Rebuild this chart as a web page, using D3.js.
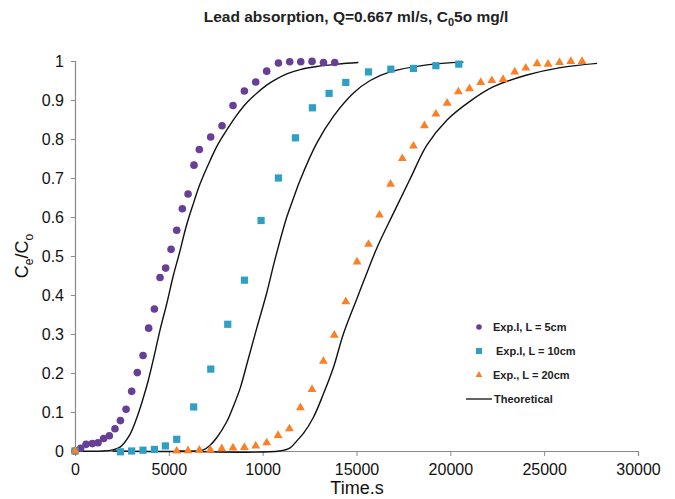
<!DOCTYPE html>
<html>
<head>
<meta charset="utf-8">
<script src="https://cdn.jsdelivr.net/npm/d3@7"></script>
<style>
  body { margin: 0; background: #fff; }
  svg { font-family: "Liberation Sans", Arial, sans-serif; }
</style>
</head>
<body>
<svg id="chart" width="675" height="499"></svg>
<script>
// data
const exp5 = [
  [0, 0], [300, 0.007], [590, 0.017], [925, 0.019], [1225, 0.021], [1525, 0.032],
  [1830, 0.039], [2130, 0.057], [2420, 0.078], [2720, 0.107], [3020, 0.153],
  [3320, 0.201], [3625, 0.245], [3925, 0.315], [4230, 0.364], [4530, 0.445],
  [4830, 0.469], [5120, 0.517], [5420, 0.566], [5720, 0.621], [6025, 0.659],
  [6340, 0.733], [6625, 0.773], [7230, 0.805], [7835, 0.834], [8420, 0.886],
  [9025, 0.923], [9630, 0.946], [10215, 0.974], [10840, 0.995], [11440, 0.998],
  [12030, 0.998], [12630, 0.999], [13240, 0.996], [13840, 0.996]
];
const exp10 = [
  [0, 0], [2420, -0.002], [3020, 0], [3625, 0.002], [4230, 0.004], [4815, 0.013],
  [5420, 0.03], [6325, 0.113], [7235, 0.21], [8140, 0.325], [9030, 0.438],
  [9915, 0.591], [10840, 0.7], [11745, 0.803], [12650, 0.88], [13540, 0.917],
  [14430, 0.945], [15640, 0.972], [16830, 0.979], [18035, 0.981], [19230, 0.988],
  [20450, 0.992]
];
const exp20 = [
  [0, 0], [5420, 0], [6025, 0.001], [6625, 0.002], [7210, 0.003], [7820, 0.006],
  [8420, 0.008], [9025, 0.009], [9630, 0.013], [10215, 0.021], [10820, 0.04],
  [11425, 0.057], [12010, 0.111], [12630, 0.158], [13235, 0.23], [13820, 0.297],
  [14430, 0.383], [15030, 0.485], [15640, 0.53], [16225, 0.605], [16815, 0.684],
  [17440, 0.75], [18035, 0.782], [18620, 0.834], [19230, 0.864], [19830, 0.892],
  [20430, 0.921], [21020, 0.929], [21620, 0.945], [22210, 0.95], [22810, 0.953],
  [23430, 0.972], [24020, 0.982], [24625, 0.993], [25210, 0.992], [25815, 0.996],
  [26420, 0.999], [27020, 0.999]
];
const theory5 = [
  [0, 0], [1500, 0], [2000, 0.003], [2400, 0.01], [2900, 0.04], [3300, 0.086],
  [3600, 0.13], [3900, 0.18], [4200, 0.24], [4530, 0.31], [4900, 0.38],
  [5240, 0.45], [5550, 0.505], [5950, 0.58], [6310, 0.635], [6665, 0.685],
  [7200, 0.745], [7600, 0.785], [8085, 0.823], [8600, 0.86], [9150, 0.893],
  [9700, 0.918], [10215, 0.938], [10750, 0.954], [11285, 0.967], [12000, 0.978],
  [12890, 0.986], [14000, 0.992], [15100, 0.996]
];
const theory10 = [
  [2000, 0], [6500, 0], [6840, 0.003], [7200, 0.015], [7550, 0.034], [8085, 0.075],
  [8440, 0.115], [8795, 0.16], [9200, 0.23], [9685, 0.315], [10215, 0.405],
  [10650, 0.49], [11285, 0.6], [11640, 0.648], [12000, 0.695], [12890, 0.79],
  [13770, 0.858], [14840, 0.918], [15730, 0.95], [16790, 0.972], [18750, 0.99],
  [20700, 0.997]
];
const theory20 = [
  [5500, 0], [10900, 0], [11460, 0.008], [11820, 0.026], [12170, 0.045],
  [12700, 0.086], [13235, 0.146], [13770, 0.214], [14300, 0.3], [15015, 0.39],
  [15500, 0.45], [16080, 0.52], [16970, 0.61], [17860, 0.698], [18750, 0.784],
  [19810, 0.848], [21060, 0.897], [22300, 0.934], [24080, 0.964], [25860, 0.983],
  [27820, 0.994]
];
const xTicks = [0, 5000, 10000, 15000, 20000, 25000, 30000];
const xTickLabels = ["0", "5000", "1000", "15000", "20000", "25000", "30000"];
const yTicks = [0, 0.1, 0.2, 0.3, 0.4, 0.5, 0.6, 0.7, 0.8, 0.9, 1];
const legendNames = ["Exp.I, L = 5cm", "Exp.I, L = 10cm", "Exp., L = 20cm", "Theoretical"];

const purple = "#673f96", blue = "#2f9fc5", orange = "#fd7f25";

const svg = d3.select("#chart");

const x = d3.scaleLinear().domain([0, 30000]).range([75, 638]);
const y = d3.scaleLinear().domain([0, 1]).range([451, 61]);

// axes
const xAxis = svg.append("g")
  .attr("transform", `translate(0,${y(0)})`)
  .call(d3.axisBottom(x).tickValues(xTicks).tickSize(5).tickPadding(8)
    .tickFormat((d, i) => xTickLabels[i]));
const yAxis = svg.append("g")
  .attr("transform", `translate(${x(0)},0)`)
  .call(d3.axisLeft(y).tickValues(yTicks).tickSize(4).tickPadding(7)
    .tickFormat(d3.format("")));

[xAxis, yAxis].forEach((g) => {
  g.select(".domain").attr("stroke", "#8a8a8a").attr("stroke-width", 1.2);
  g.selectAll(".tick line").attr("stroke", "#8a8a8a");
  g.selectAll(".tick text")
    .attr("fill", "#111")
    .attr("font-size", "16px")
    .attr("font-family", "Liberation Sans, Arial, sans-serif");
});

// theoretical lines
const line = d3.line().x((d) => x(d[0])).y((d) => y(d[1])).curve(d3.curveCatmullRom.alpha(0.5));
[theory5, theory10, theory20].forEach((data) => {
  svg.append("path")
    .datum(data)
    .attr("fill", "none")
    .attr("stroke", "#111")
    .attr("stroke-width", 1.4)
    .attr("d", line);
});

// experimental points
svg.append("g").selectAll("circle")
  .data(exp5)
  .join("circle")
  .attr("cx", (d) => x(d[0]))
  .attr("cy", (d) => y(d[1]))
  .attr("r", 3.8)
  .attr("fill", purple);

svg.append("g").selectAll("rect")
  .data(exp10)
  .join("rect")
  .attr("x", (d) => x(d[0]) - 3.6)
  .attr("y", (d) => y(d[1]) - 3.6)
  .attr("width", 7.2)
  .attr("height", 7.2)
  .attr("fill", blue);

const tri = d3.symbol().type(d3.symbolTriangle).size(34);
svg.append("g").selectAll("path")
  .data(exp20)
  .join("path")
  .attr("transform", (d) => `translate(${x(d[0])},${y(d[1])})`)
  .attr("d", tri)
  .attr("fill", orange);

// title
const title = svg.append("text")
  .attr("x", 356)
  .attr("y", 22)
  .attr("text-anchor", "middle")
  .attr("font-size", "15.5px")
  .attr("font-weight", "bold")
  .attr("fill", "#222");
title.append("tspan").text("Lead absorption, Q=0.667 ml/s, C");
title.append("tspan").attr("font-size", "11px").attr("dy", 4).text("0");
title.append("tspan").attr("dy", -4).text("5o mg/l");

// axis labels
svg.append("text")
  .attr("x", 357)
  .attr("y", 494)
  .attr("text-anchor", "middle")
  .attr("font-size", "18px")
  .attr("fill", "#111")
  .text("Time.s");

const yl = svg.append("text")
  .attr("transform", "translate(28,256) rotate(-90)")
  .attr("text-anchor", "middle")
  .attr("font-size", "18px")
  .attr("fill", "#111");
yl.append("tspan").text("C");
yl.append("tspan").attr("font-size", "12px").attr("dy", 5).text("e");
yl.append("tspan").attr("dy", -5).text("/C");
yl.append("tspan").attr("font-size", "12px").attr("dy", 5).text("o");

// legend
const legend = svg.append("g").attr("font-size", "11px").attr("font-weight", "bold").attr("fill", "#222");
const legendY = [327, 351, 375, 399];
legend.append("circle").attr("cx", 479).attr("cy", legendY[0]).attr("r", 2.8).attr("fill", purple);
legend.append("rect").attr("x", 476).attr("y", legendY[1] - 3).attr("width", 6).attr("height", 6).attr("fill", blue);
legend.append("path")
  .attr("transform", `translate(479,${legendY[2]})`)
  .attr("d", d3.symbol().type(d3.symbolTriangle).size(20))
  .attr("fill", orange);
legend.append("line")
  .attr("x1", 466).attr("x2", 492)
  .attr("y1", legendY[3]).attr("y2", legendY[3])
  .attr("stroke", "#222").attr("stroke-width", 1.4);
const legendX = [493, 496, 493, 494];
legendNames.forEach((n, i) => {
  legend.append("text")
    .attr("x", legendX[i])
    .attr("y", legendY[i] + 4)
    .text(n);
});
</script>
</body>
</html>
